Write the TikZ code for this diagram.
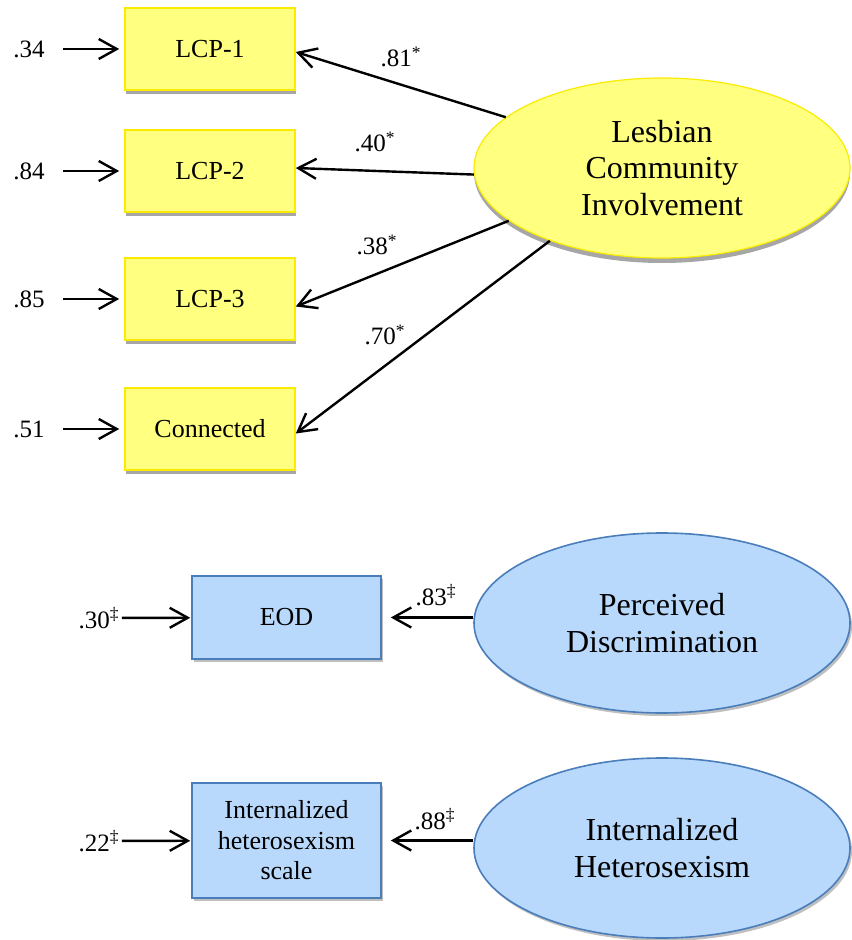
\documentclass[tikz,border=0pt]{standalone}
\usepackage{fontspec}
\setmainfont{Liberation Serif}
\usetikzlibrary{shapes.geometric, arrows.meta, shadows}
\definecolor{lcpyellow}{RGB}{255,255,128}
\definecolor{lcpedge}{RGB}{250,235,0}
\definecolor{pdblue}{RGB}{185,217,252}
\definecolor{pdedge}{RGB}{74,126,187}

\begin{document}
\begin{tikzpicture}[x=0.5pt, y=-0.5pt,
    ybox/.style={rectangle, fill=lcpyellow, draw=lcpedge, line width=0.8pt,
      minimum width=85pt, minimum height=41pt, inner sep=0pt,
      font=\fontsize{13}{15}\selectfont,
      drop shadow={shadow xshift=0.4pt, shadow yshift=-2pt, fill=black!35, opacity=1}},
    bbox/.style={rectangle, fill=pdblue, draw=pdedge, line width=0.8pt,
      minimum width=94.5pt, inner sep=0pt, align=center,
      font=\fontsize{13}{15.25}\selectfont,
      drop shadow={shadow xshift=1pt, shadow yshift=-1.5pt, fill=black, opacity=0.25}},
    yell/.style={ellipse, fill=lcpyellow, draw=lcpedge, line width=0.6pt,
      minimum width=188pt, minimum height=90pt, inner sep=0pt, align=center,
      font=\fontsize{16}{18.4}\selectfont,
      drop shadow={shadow xshift=0pt, shadow yshift=-2.5pt, fill=black!35, opacity=1}},
    bell/.style={ellipse, fill=pdblue, draw=pdedge, line width=0.8pt,
      minimum width=188pt, minimum height=90pt, inner sep=0pt, align=center,
      font=\fontsize{16}{18.4}\selectfont,
      drop shadow={shadow xshift=1pt, shadow yshift=-1.5pt, fill=black, opacity=0.25}},
    num/.style={font=\fontsize{12.5}{14}\selectfont, inner sep=1pt},
    arr/.style={-{Straight Barb[length=9pt, width=10pt]}, line width=1.2pt}]
  \useasboundingbox (0,0) rectangle (851,940);

  % indicators
  \node[ybox] (lcp1) at (210,49) {LCP-1};
  \node[ybox] (lcp2) at (210,171) {LCP-2};
  \node[ybox] (lcp3) at (210,299) {LCP-3};
  \node[ybox] (conn) at (210,429) {Connected};
  \node[bbox, minimum height=41.5pt] (eod) at (286.5,617.5) {EOD};
  \node[bbox, minimum height=57.5pt] (ihs) at (286.5,840.5) {Internalized\\heterosexism\\scale};

  % latent factors
  \node[yell] (lci) at (662,168) {Lesbian\\Community\\Involvement};
  \node[bell] (pd) at (662,623) {Perceived\\Discrimination};
  \node[bell] (ih) at (662,848) {Internalized\\Heterosexism};

  % error terms
  \node[num] (e1) at (29,49) {.34};
  \node[num] (e2) at (29,171) {.84};
  \node[num] (e3) at (29,299) {.85};
  \node[num] (e4) at (29,429) {.51};
  \node[num] (e5) at (99,618) {.30\textsuperscript{\ddag}};
  \node[num] (e6) at (99,841) {.22\textsuperscript{\ddag}};

  \draw[arr, shorten <=8pt, shorten >=2.5pt] (e1) -- (lcp1);
  \draw[arr, shorten <=8pt, shorten >=2.5pt] (e2) -- (lcp2);
  \draw[arr, shorten <=8pt, shorten >=2.5pt] (e3) -- (lcp3);
  \draw[arr, shorten <=8pt, shorten >=2.5pt] (e4) -- (conn);
  \draw[arr, shorten >=0.5pt] (e5) -- (eod);
  \draw[arr, shorten >=0.5pt] (e6) -- (ihs);

  % loadings
  \draw[arr] (lci.162) -- (lcp1.-2);
  \draw[arr] (lci.182) -- (lcp2.2);
  \draw[arr] (lci.199) -- (lcp3.-5);
  \draw[arr] (lci.213) -- (conn.-3);
  \draw[arr, shorten >=4.5pt] (pd.west |- eod.east) -- (eod.east);
  \draw[arr, shorten >=4.5pt] (ih.west |- ihs.east) -- (ihs.east);

  \node[num] (w1) at (401,57) {.81\textsuperscript{*}};
  \node[num] (w2) at (375,142) {.40\textsuperscript{*}};
  \node[num] (w3) at (377,245) {.38\textsuperscript{*}};
  \node[num] (w4) at (385,335) {.70\textsuperscript{*}};
  \node[num] (w5) at (436,595) {.83\textsuperscript{\ddag}};
  \node[num] (w6) at (435,819) {.88\textsuperscript{\ddag}};
\end{tikzpicture}
\end{document}
